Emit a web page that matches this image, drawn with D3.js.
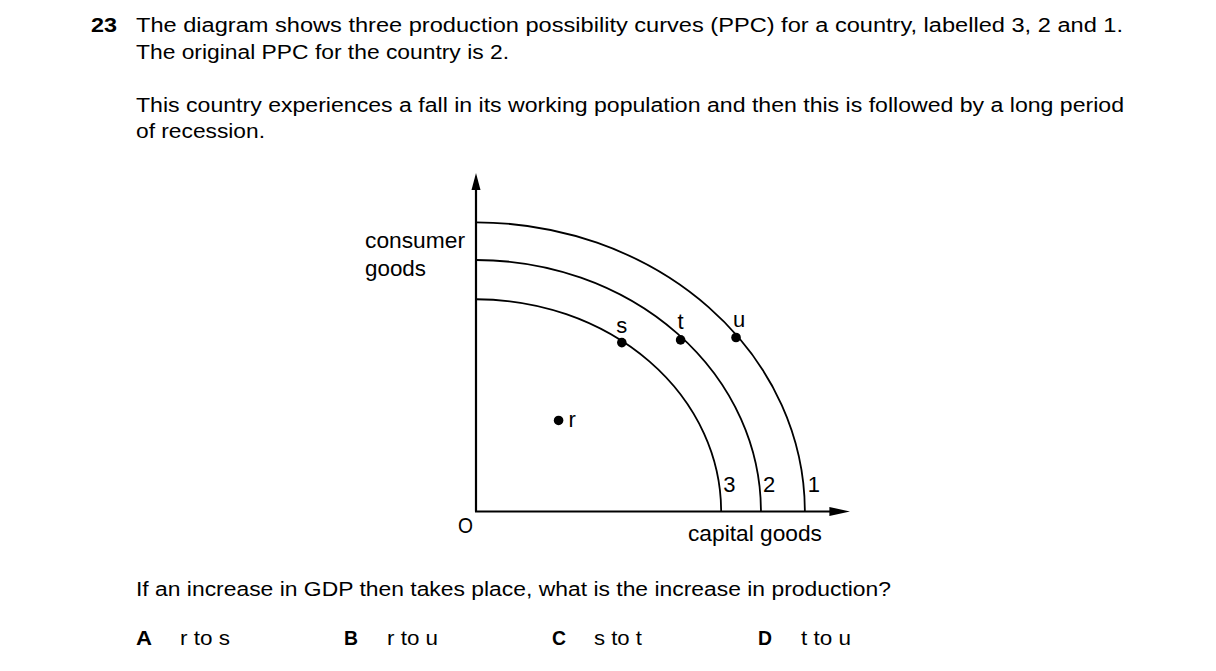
<!DOCTYPE html>
<html>
<head>
<meta charset="utf-8">
<script src="https://cdn.jsdelivr.net/npm/d3@7"></script>
<style>
  html, body { margin: 0; padding: 0; background: #fff; }
  svg text { font-family: "Liberation Sans", Arial, sans-serif; fill: #000; }
</style>
</head>
<body>
<svg id="chart" width="1216" height="671"></svg>
<script>
// ---- data ----
const ppcNames = ["1", "2", "3"];
const ppcCapital = [88.4, 76.6, 65.9];   // x-intercepts (capital goods)
const ppcConsumer = [85.4, 74.3, 62.7];  // y-intercepts (consumer goods)
const pointNames = ["r", "s", "t", "u"];
const pointCapital = [22.2, 39.2, 55.0, 69.9];
const pointConsumer = [26.9, 49.9, 50.7, 51.4];
const optionLetters = ["A", "B", "C", "D"];
const optionTexts = ["r to s", "r to u", "s to t", "t to u"];

const svg = d3.select("#chart");
const x = d3.scaleLinear().domain([0, 100]).range([476, 848]);
const y = d3.scaleLinear().domain([0, 100]).range([511.5, 173]);

// ---- question text ----
const para = [
  {t: "The diagram shows three production possibility curves (PPC) for a country, labelled 3, 2 and 1.", x: 136, y: 32, w: 987},
  {t: "The original PPC for the country is 2.", x: 136, y: 59, w: 373},
  {t: "This country experiences a fall in its working population and then this is followed by a long period", x: 136, y: 112, w: 988},
  {t: "of recession.", x: 136, y: 138, w: 129},
  {t: "If an increase in GDP then takes place, what is the increase in production?", x: 136, y: 596, w: 755}
];
svg.append("text").attr("x", 91).attr("y", 32).attr("font-size", 20).attr("font-weight", "bold")
  .attr("textLength", 26).attr("lengthAdjust", "spacingAndGlyphs").text("23");
svg.selectAll("text.para").data(para).join("text").attr("class", "para")
  .attr("x", d => d.x).attr("y", d => d.y).attr("font-size", 20)
  .attr("textLength", d => d.w).attr("lengthAdjust", "spacingAndGlyphs").text(d => d.t);

// options
const optLetterX = [136, 344, 552, 758];
const optLetterW = [16, 14, 14, 14];
const optTextX = [180, 387, 594, 801];
const optTextW = [50, 51, 48, 50];
optionLetters.forEach((l, i) => {
  svg.append("text").attr("x", optLetterX[i]).attr("y", 645).attr("font-size", 20).attr("font-weight", "bold")
    .attr("textLength", optLetterW[i]).attr("lengthAdjust", "spacingAndGlyphs").text(l);
  svg.append("text").attr("x", optTextX[i]).attr("y", 645).attr("font-size", 20)
    .attr("textLength", optTextW[i]).attr("lengthAdjust", "spacingAndGlyphs").text(optionTexts[i]);
});

// ---- diagram ----
const g = svg.append("g");
// PPC curves as quarter ellipses
ppcNames.forEach((n, i) => {
  const x0 = x(0), y0 = y(0);
  const rx = x(ppcCapital[i]) - x0, ry = y0 - y(ppcConsumer[i]);
  g.append("path")
    .attr("d", `M${x0},${y(ppcConsumer[i])} A${rx},${ry} 0 0 1 ${x(ppcCapital[i])},${y0}`)
    .attr("fill", "none").attr("stroke", "#000").attr("stroke-width", 1.8);
});
// axes
g.append("line").attr("x1", x(0)).attr("y1", y(0)).attr("x2", x(0)).attr("y2", y(97))
  .attr("stroke", "#000").attr("stroke-width", 2.2);
g.append("line").attr("x1", x(0) - 1).attr("y1", y(0)).attr("x2", x(97)).attr("y2", y(0))
  .attr("stroke", "#000").attr("stroke-width", 2.2);
// arrowheads
g.append("path").attr("d", `M${x(0)},${y(100)} L${x(0) - 4.5},${y(95)} L${x(0) + 4.5},${y(95)} Z`).attr("fill", "#000");
g.append("path").attr("d", `M${x(100) + 2},${y(0)} L${x(95)},${y(0) - 4.5} L${x(95)},${y(0) + 4.5} Z`).attr("fill", "#000");

// points
g.selectAll("circle.pt").data(pointNames).join("circle").attr("class", "pt")
  .attr("cx", (d, i) => x(pointCapital[i])).attr("cy", (d, i) => y(pointConsumer[i]))
  .attr("r", 4.8).attr("fill", "#000");

// point labels
const lblDx = [10, 0, 0, 3];
const lblDy = [7, -10, -11, -11];
const lblAnchor = ["start", "middle", "middle", "middle"];
g.selectAll("text.pl").data(pointNames).join("text").attr("class", "pl")
  .attr("x", (d, i) => x(pointCapital[i]) + lblDx[i])
  .attr("y", (d, i) => y(pointConsumer[i]) + lblDy[i])
  .attr("text-anchor", (d, i) => lblAnchor[i])
  .attr("font-size", 22).text(d => d);

// curve number labels
g.selectAll("text.cl").data(ppcNames).join("text").attr("class", "cl")
  .attr("x", (d, i) => x(ppcCapital[i]) + [3, 2, 2][i])
  .attr("y", 492).attr("font-size", 22).text(d => d);

// axis labels
const axisLabels = [
  {t: "consumer", x: 365, y: 248, w: 100},
  {t: "goods", x: 365, y: 276, w: 61},
  {t: "O", x: 458, y: 533, w: 15},
  {t: "capital goods", x: 688, y: 541, w: 134}
];
svg.selectAll("text.al").data(axisLabels).join("text").attr("class", "al")
  .attr("x", d => d.x).attr("y", d => d.y).attr("font-size", 22)
  .attr("textLength", d => d.w).attr("lengthAdjust", "spacingAndGlyphs").text(d => d.t);
</script>
</body>
</html>
